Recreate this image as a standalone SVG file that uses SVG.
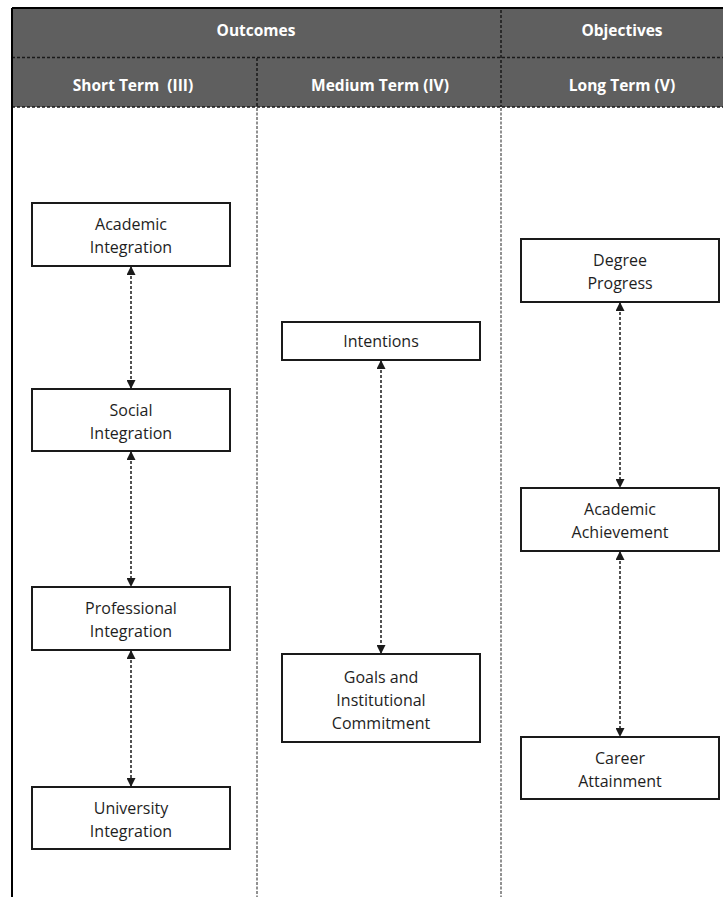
<svg xmlns="http://www.w3.org/2000/svg" width="723" height="897" viewBox="0 0 723 897">
  <style>
    .hdr { fill: #5f5f5f; }
    .htxt { font-family: "Open Sans", "Liberation Sans", sans-serif; font-weight: bold; font-size: 15.5px; fill: #ffffff; text-anchor: middle; }
    .hdash { stroke: #1a1a1a; stroke-width: 1.5; stroke-dasharray: 3 2; fill: none; }
    .colsep { stroke: #6e6e6e; stroke-width: 1.5; stroke-dasharray: 3 1.5; fill: none; }
    .box { fill: #ffffff; stroke: #1a1a1a; stroke-width: 2; }
    .lbl { font-family: "Open Sans", "Liberation Sans", sans-serif; font-size: 16px; fill: #1e1e1e; text-anchor: middle; }
    .link { stroke: #1a1a1a; stroke-width: 1.5; stroke-dasharray: 3 2; fill: none; marker-start: url(#tip); marker-end: url(#tip); }
  </style>
  <defs>
    <marker id="tip" viewBox="0 0 10 10" refX="10" refY="5" markerWidth="9" markerHeight="9" markerUnits="userSpaceOnUse" orient="auto-start-reverse">
      <path d="M0,0 L10,5 L0,10 Z" fill="#1a1a1a"/>
    </marker>
  </defs>

  <rect width="723" height="897" fill="#ffffff"/>

  <!-- header band -->
  <g id="header">
    <rect class="hdr" x="12" y="9" width="711" height="98"/>
    <line x1="12" y1="57.5" x2="723" y2="57.5" class="hdash"/>
    <line x1="12" y1="107" x2="723" y2="107" class="hdash" stroke="#1e2a38"/>
    <line x1="501" y1="10" x2="501" y2="107" class="hdash"/>
    <line x1="257" y1="58" x2="257" y2="107" class="hdash"/>
    <text class="htxt" x="256" y="36">Outcomes</text>
    <text class="htxt" x="622" y="36">Objectives</text>
    <text class="htxt" x="133" y="91">Short Term&#160; (III)</text>
    <text class="htxt" x="380" y="91">Medium Term (IV)</text>
    <text class="htxt" x="622" y="91">Long Term (V)</text>
  </g>

  <!-- frame and column separators -->
  <g id="frame">
    <line x1="12" y1="8" x2="723" y2="8" stroke="#000" stroke-width="2"/>
    <line x1="12" y1="8" x2="12" y2="897" stroke="#000" stroke-width="2"/>
    <line x1="257" y1="108" x2="257" y2="897" class="colsep"/>
    <line x1="501" y1="108" x2="501" y2="897" class="colsep"/>
  </g>

  <!-- connectors -->
  <g id="connectors">
    <line class="link" x1="131" y1="266" x2="131" y2="389"/>
    <line class="link" x1="131" y1="451" x2="131" y2="587"/>
    <line class="link" x1="131" y1="650" x2="131" y2="787"/>
    <line class="link" x1="381" y1="360" x2="381" y2="654"/>
    <line class="link" x1="620" y1="302" x2="620" y2="488"/>
    <line class="link" x1="620" y1="551" x2="620" y2="737"/>
  </g>

  <!-- short term -->
  <g id="academic-integration">
    <rect class="box" x="32" y="203" width="198" height="63"/>
    <text class="lbl" x="131" y="230">Academic</text>
    <text class="lbl" x="131" y="253">Integration</text>
  </g>
  <g id="social-integration">
    <rect class="box" x="32" y="389" width="198" height="62"/>
    <text class="lbl" x="131" y="416">Social</text>
    <text class="lbl" x="131" y="439">Integration</text>
  </g>
  <g id="professional-integration">
    <rect class="box" x="32" y="587" width="198" height="63"/>
    <text class="lbl" x="131" y="614">Professional</text>
    <text class="lbl" x="131" y="637">Integration</text>
  </g>
  <g id="university-integration">
    <rect class="box" x="32" y="787" width="198" height="62"/>
    <text class="lbl" x="131" y="814">University</text>
    <text class="lbl" x="131" y="837">Integration</text>
  </g>

  <!-- medium term -->
  <g id="intentions">
    <rect class="box" x="282" y="322" width="198" height="38"/>
    <text class="lbl" x="381" y="347">Intentions</text>
  </g>
  <g id="goals-commitment">
    <rect class="box" x="282" y="654" width="198" height="88"/>
    <text class="lbl" x="381" y="683">Goals and</text>
    <text class="lbl" x="381" y="706">Institutional</text>
    <text class="lbl" x="381" y="729">Commitment</text>
  </g>

  <!-- long term -->
  <g id="degree-progress">
    <rect class="box" x="521" y="239" width="198" height="63"/>
    <text class="lbl" x="620" y="266">Degree</text>
    <text class="lbl" x="620" y="289">Progress</text>
  </g>
  <g id="academic-achievement">
    <rect class="box" x="521" y="488" width="198" height="63"/>
    <text class="lbl" x="620" y="515">Academic</text>
    <text class="lbl" x="620" y="538">Achievement</text>
  </g>
  <g id="career-attainment">
    <rect class="box" x="521" y="737" width="198" height="62"/>
    <text class="lbl" x="620" y="764">Career</text>
    <text class="lbl" x="620" y="787">Attainment</text>
  </g>
</svg>
